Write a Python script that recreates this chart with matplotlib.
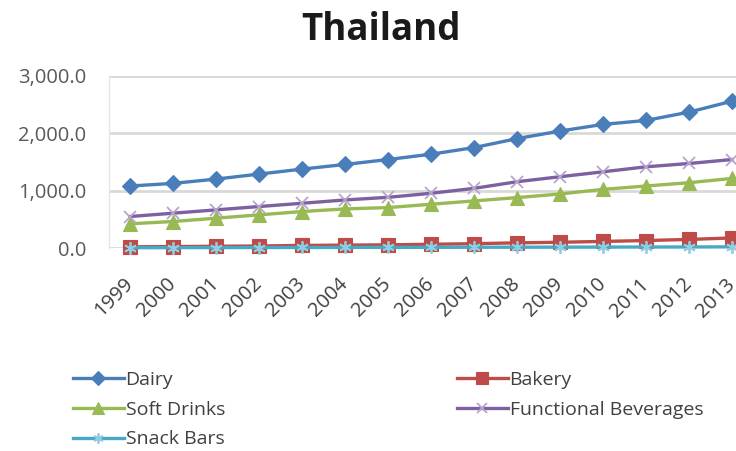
import matplotlib
matplotlib.use("Agg")
import matplotlib.pyplot as plt
from matplotlib.ticker import FuncFormatter
from matplotlib.transforms import ScaledTranslation

plt.rcParams['font.family'] = ['Open Sans', 'DejaVu Sans']

years = [str(y) for y in range(1999, 2014)]

dairy = [1081, 1127, 1202, 1289, 1376, 1457, 1543, 1636, 1751, 1908,
         2040, 2156, 2225, 2370, 2561]
bakery = [20, 25, 30, 35, 45, 50, 55, 65, 75, 90, 100, 115, 130, 150, 175]
soft_drinks = [422, 462, 520, 578, 636, 682, 705, 763, 821, 879,
               942, 1023, 1081, 1139, 1214]
functional_bev = [549, 607, 665, 723, 780, 838, 884, 954, 1040, 1156,
                  1243, 1329, 1416, 1474, 1543]
snack_bars = [5, 6, 7, 8, 9, 10, 11, 12, 13, 14, 15, 16, 17, 18, 20]

y_ticks = [0, 1000, 2000, 3000]

# name, values, line colour, marker, marker size, marker edge colour, legend column
series = [
    ("Dairy", dairy, "#4a7ebb", "D", 8.5, "#4a7ebb", "col1"),
    ("Bakery", bakery, "#be4b48", "s", 10, "#be4b48", "col2"),
    ("Soft Drinks", soft_drinks, "#98b954", "^", 10.5, "#98b954", "col1"),
    ("Functional Beverages", functional_bev, "#7d60a0", "x", 9, "#b6a4cc", "col2"),
    ("Snack Bars", snack_bars, "#46aac5", (6, 2, 0), 9, "#8fcde0", "col1"),
]

fig = plt.figure(figsize=(7.36, 4.51), dpi=100)
ax = fig.add_axes([108.5 / 736, (451 - 248) / 451, 645 / 736, 172 / 451])

x = list(range(len(years)))
handles = {"col1": [], "col2": []}
for name, vals, color, marker, ms, mec, col in series:
    thin = marker == "x" or isinstance(marker, tuple)
    (ln,) = ax.plot(x, vals, color=color, lw=2.4, marker=marker, ms=ms,
                    mew=1.3 if thin else 0.8,
                    mec=mec, mfc=color, label=name, clip_on=False, zorder=3)
    handles[col].append(ln)

ax.set_xlim(-0.5, len(years) - 0.5)
ax.set_ylim(0, 3000)
ax.set_yticks(y_ticks)
ax.yaxis.set_major_formatter(FuncFormatter(lambda v, p: f"{v:,.1f}"))
ax.set_xticks(x)
ax.set_xticklabels(years, rotation=45, ha="right", va="center",
                   rotation_mode="anchor")
shift = ScaledTranslation(4 / 100, 0, fig.dpi_scale_trans)
for lbl in ax.get_xticklabels():
    lbl.set_transform(lbl.get_transform() + shift)
ax.tick_params(axis="y", length=0, labelsize=14.5, labelcolor="#595959", pad=16)
ax.tick_params(axis="x", length=0, labelsize=14.5, labelcolor="#404040", pad=24)
ax.grid(axis="y", color="#d9d9d9", lw=2)
ax.set_axisbelow(True)
for side in ("top", "right", "bottom"):
    ax.spines[side].set_visible(False)
ax.spines["left"].set_color("#e6e6e6")
ax.spines["left"].set_linewidth(1)

fig.text(381 / 736, 1 - 30 / 451, "Thailand", ha="center", va="center",
         fontsize=26.5, fontweight="bold", color="#1a1a1a")

leg_kw = dict(frameon=False, fontsize=14, handlelength=2.6, handletextpad=0.1,
              labelspacing=0.6, borderaxespad=0, borderpad=0,
              labelcolor="#404040")
leg1 = fig.legend(handles=handles["col1"], loc="upper left",
                  bbox_to_anchor=(73 / 736, 1 - 371 / 451), **leg_kw)
leg2 = fig.legend(handles=handles["col2"], loc="upper left",
                  bbox_to_anchor=(457 / 736, 1 - 371 / 451), **leg_kw)
for leg in (leg1, leg2):
    for h in leg.legend_handles:
        h.set_markersize(h.get_markersize() * 0.8)

fig.savefig("out.png", dpi=100, facecolor="white")
